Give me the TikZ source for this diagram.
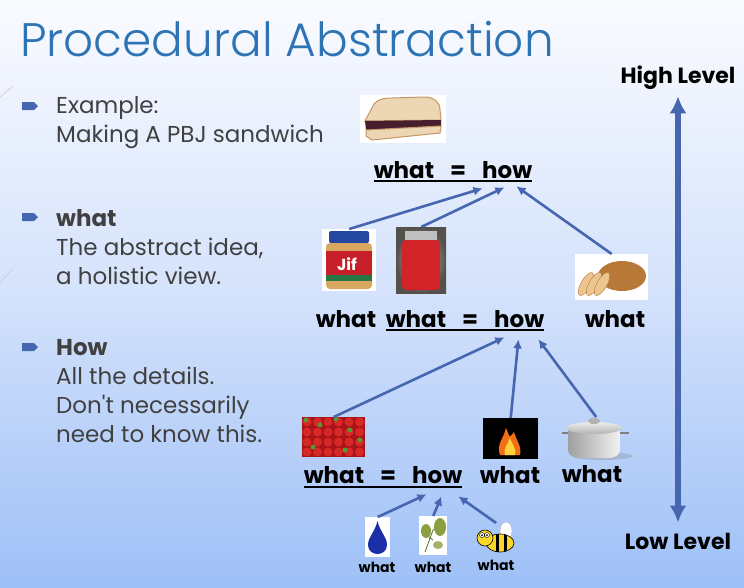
\documentclass[tikz,border=0pt]{standalone}
\usepackage{fontspec}
\setmainfont{Poppins}
\newfontfamily\thinfont{Poppins Light}
\usetikzlibrary{arrows.meta}
\definecolor{titleblue}{RGB}{46,116,181}
\definecolor{bodygray}{RGB}{64,64,64}
\definecolor{linkblue}{RGB}{70,102,176}
\definecolor{skytop}{RGB}{250,251,255}
\definecolor{skymid}{RGB}{212,226,251}
\definecolor{skybot}{RGB}{158,192,247}
\definecolor{breadtan}{RGB}{236,214,180}
\definecolor{crust}{RGB}{196,150,100}
\definecolor{jelly}{RGB}{70,30,45}
\definecolor{jifblue}{RGB}{36,71,160}
\definecolor{jifred}{RGB}{200,32,42}
\definecolor{jifgreen}{RGB}{40,120,70}
\definecolor{pbtan}{RGB}{217,168,96}
\definecolor{jamback}{RGB}{120,114,108}
\definecolor{jamred}{RGB}{210,35,40}
\definecolor{loafbrown}{RGB}{184,120,56}
\definecolor{slicetan}{RGB}{236,196,144}
\definecolor{berryred}{RGB}{170,20,25}
\definecolor{berrylight}{RGB}{215,40,40}
\definecolor{stemgreen}{RGB}{90,150,50}
\definecolor{flameorange}{RGB}{240,110,20}
\definecolor{flameyellow}{RGB}{255,210,60}
\definecolor{dropblue}{RGB}{26,47,168}
\definecolor{leafolive}{RGB}{138,160,64}
\definecolor{beeyellow}{RGB}{250,215,40}
\tikzset{
  body/.style={anchor=base west, inner sep=0, text=bodygray, font=\fontsize{23}{26}\selectfont},
  bodybold/.style={body, font=\bfseries\fontsize{23}{26}\selectfont},
  lab/.style={anchor=base, inner sep=0, font=\bfseries\fontsize{23}{26}\selectfont},
  tinylab/.style={anchor=base, inner sep=0, font=\bfseries\fontsize{14}{16}\selectfont},
  uline/.style={line width=2pt},
  link/.style={linkblue, line width=2.6pt, -{Latex[length=9pt,width=9pt]}},
  photo/.style={inner sep=0, anchor=north west},
}
\begin{document}
\begin{tikzpicture}[x=1pt,y=-1pt]
\useasboundingbox (0,0) rectangle (744,587);
\shade[top color=skytop, bottom color=skybot, middle color=skymid] (0,0) rectangle (744,587);
\draw[gray!40, line width=.6pt] (0,97)--(13,86) (0,283)--(13,268);
\node[anchor=base west, inner sep=0, text=titleblue, font=\thinfont\fontsize{47}{47}\selectfont] (title) at (20,56) {Procedural Abstraction};
\foreach \y in {106,217,347}
  \fill[linkblue] (22,\y-4) -- (34,\y-4) -- (38,\y) -- (34,\y+4) -- (22,\y+4) -- cycle;
\node[body] (ex1) at (56,113) {Example:};
\node[body] (ex2) at (56,142) {Making A PBJ sandwich};
\node[bodybold] (wh1) at (56,226) {what};
\node[body] (wh2) at (56,255) {The abstract idea,};
\node[body] (wh3) at (56,284) {a holistic view.};
\node[bodybold] (hw1) at (56,355) {How};
\node[body] (hw2) at (56,384) {All the details.};
\node[body] (hw3) at (56,413) {Don\textquotesingle t necessarily};
\node[body] (hw4) at (56,442) {need to know this.};

\node[anchor=base, inner sep=0, font=\bfseries\fontsize{22}{26}\selectfont] (high) at (678,83) {High Level};
\node[anchor=base, inner sep=0, font=\bfseries\fontsize{22}{26}\selectfont] (low) at (678,549) {Low Level};
\draw[linkblue, line width=6pt, {Latex[length=17pt,width=17pt]}-{Latex[length=17pt,width=17pt]}] ([yshift=-7pt]high.south) -- ([yshift=10pt]low.north);

\node[photo, minimum width=86pt, minimum height=48pt, fill=white] (sandwich) at (360,95) {};
\filldraw[fill=breadtan, draw=crust, line width=1pt] (365,121) -- (374,104) .. controls (378,99) and (384,98) .. (392,98) -- (424,97) .. controls (434,97) and (440,102) .. (440,110) -- (441,120) -- cycle;
\fill[jelly] (365,121) -- (441,120) -- (441,126) -- (366,130) -- cycle;
\filldraw[fill=breadtan, draw=crust, line width=1pt] (366,130) -- (441,126) -- (440,133) -- (372,140) -- (366,136) -- cycle;

\node[lab] (eqtop) at (453,178) {what\hspace{16pt}=\hspace{16pt}how};
\draw[uline] ([yshift=-3pt]eqtop.south west) -- ([yshift=-3pt]eqtop.south east);

\node[photo, minimum width=54pt, minimum height=62pt, fill=white] (jif) at (322,229) {};
\fill[jifblue, rounded corners=2pt] (329,231) rectangle (369,243);
\fill[pbtan, rounded corners=4pt] (326,243) rectangle (372,289);
\fill[jifred] (326,251) rectangle (372,281);
\fill[jifgreen] (326,275) rectangle (372,281);
\node[inner sep=0, text=white, font=\bfseries\fontsize{16}{16}\selectfont] (jiflogo) at (347,264) {Jif};

\node[photo, minimum width=50pt, minimum height=66pt, inner color=gray!40, outer color=jamback!70!black] (jam) at (396,227) {};
\fill[gray!50] (405,231) rectangle (437,241);
\fill[jamred, rounded corners=4pt] (402,240) rectangle (440,290);

\node[photo, minimum width=73pt, minimum height=46pt, fill=white] (loaf) at (575,254) {};
\fill[loafbrown] (622,276) ellipse [x radius=24pt, y radius=15pt];
\foreach \x in {586,594,602}
  \filldraw[fill=slicetan, draw=loafbrown, rotate around={-30:(\x,284)}] (\x,284) ellipse [x radius=5pt, y radius=13pt];

\node[lab] (w2a) at (346,327) {what};
\node[lab] (eqmid) at (465,327) {what\hspace{16pt}=\hspace{16pt}how};
\draw[uline] ([yshift=-3pt]eqmid.south west) -- ([yshift=-3pt]eqmid.south east);
\node[lab] (w2c) at (615,327) {what};

\draw[link] (jif.north) -- ([xshift=-50pt,yshift=-10pt]eqtop.south east);
\draw[link] (jam.north) -- ([xshift=-28pt,yshift=-9pt]eqtop.south east);
\draw[link] (loaf.north) -- ([xshift=-16pt,yshift=-8pt]eqtop.south east);

\node[photo, minimum width=63pt, minimum height=40pt, fill=berryred] (berries) at (302,417) {};
\foreach \x in {0,...,5}
  \foreach \y in {0,...,3}
    \fill[berrylight] (307+\x*10.5,422+\y*10) circle[radius=4.5pt];
\foreach \p in {(306,420),(320,425),(336,419),(350,430),(313,447),(345,450),(360,440)}
  \fill[stemgreen] \p circle[radius=2.5pt];

\node[photo, minimum width=55pt, minimum height=41pt, fill=black] (fire) at (483,418) {};
\fill[flameorange] (500,455) .. controls (496,444) and (504,438) .. (506,428) .. controls (510,436) and (508,440) .. (514,432) .. controls (516,440) and (522,446) .. (520,455) -- cycle;
\fill[flameyellow] (505,455) .. controls (503,448) and (508,444) .. (510,438) .. controls (513,446) and (517,450) .. (515,455) -- cycle;

\node[photo, minimum width=68pt, minimum height=42pt] (pot) at (562,417) {};
\fill[gray, opacity=.3] (602,456) ellipse [x radius=30pt, y radius=4pt];
\draw[gray, line width=2pt] (569,433) -- (562,433) (619,433) -- (629,433);
\shade[left color=gray!75, right color=gray!10] (568,429) -- (620,429) -- (620,450) .. controls (620,456) and (614,458) .. (606,458) -- (582,458) .. controls (574,458) and (568,456) .. (568,450) -- cycle;
\shade[top color=gray!15, bottom color=gray!60] (594,428) ellipse [x radius=28pt, y radius=6pt];
\fill[gray!60] (594,421) ellipse [x radius=6pt, y radius=3pt];

\node[lab] (eqlow) at (383,483) {what\hspace{16pt}=\hspace{16pt}how};
\draw[uline] ([yshift=-4pt]eqlow.south west) -- ([yshift=-4pt]eqlow.south east);
\node[lab] (w3b) at (510,483) {what};
\node[lab] (w3c) at (592,482) {what};

\draw[link] (berries.north) -- ([xshift=-40pt,yshift=-10pt]eqmid.south east);
\draw[link] (fire.north) -- ([xshift=-26pt,yshift=-12pt]eqmid.south east);
\draw[link] (pot.north) -- ([xshift=-6pt,yshift=-12pt]eqmid.south east);

\node[photo, minimum width=25pt, minimum height=40pt, fill=white] (drop) at (365,517) {};
\fill[dropblue] (377.5,521) .. controls (380,532) and (387,537) .. (387,545) .. controls (387,551) and (382,554) .. (377.5,554) .. controls (373,554) and (368,551) .. (368,545) .. controls (368,537) and (375,532) .. (377.5,521) -- cycle;

\node[photo, minimum width=28pt, minimum height=39pt, fill=white] (leaf) at (419,516) {};
\draw[leafolive!70!black, line width=.8pt] (425,552) -- (433,530) -- (441,524) (433,540) -- (425,534);
\fill[leafolive] (440,527) ellipse [x radius=6pt, y radius=9pt];
\fill[leafolive] (426,531) ellipse [x radius=5pt, y radius=7pt];
\fill[leafolive!80] (438,545) ellipse [x radius=5pt, y radius=4pt];

\node[photo, minimum width=42pt, minimum height=30pt] (bee) at (475,523) {};
\filldraw[fill=white, draw=gray!60] (506,531) ellipse [x radius=6pt, y radius=9pt];
\filldraw[fill=beeyellow, draw=black, line width=.6pt] (500,543) ellipse [x radius=14pt, y radius=9pt];
\begin{scope}
\clip (500,543) ellipse [x radius=14pt, y radius=9pt];
\draw[line width=3pt] (497,533) -- (497,553) (505,533) -- (505,553);
\end{scope}
\filldraw[fill=beeyellow, draw=black, line width=.6pt] (485,538) circle[radius=8pt];
\filldraw[fill=white, draw=black, line width=.4pt] (482,535) circle[radius=2.5pt] (487,535) circle[radius=2.5pt];
\fill (482,535) circle[radius=1pt] (487,535) circle[radius=1pt];

\node[tinylab] (t1) at (377,572) {what};
\node[tinylab] (t2) at (433,572) {what};
\node[tinylab] (t3) at (496,570) {what};

\draw[link] (drop.north) -- ([xshift=-36pt,yshift=-11pt]eqlow.south east);
\draw[link] (leaf.north) -- ([xshift=-21pt,yshift=-13pt]eqlow.south east);
\draw[link] (bee.north) -- ([xshift=-4pt,yshift=-13pt]eqlow.south east);
\end{tikzpicture}
\end{document}
